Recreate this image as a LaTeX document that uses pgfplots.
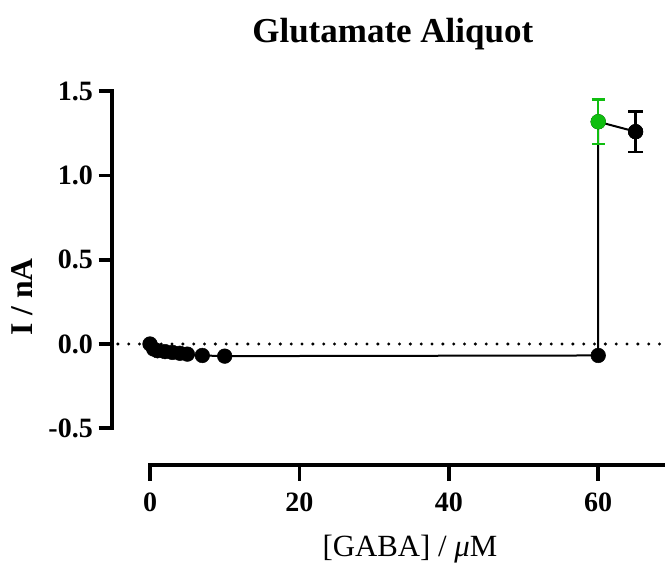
\documentclass[border=0pt]{standalone}
\usepackage{pgfplots}
\pgfplotsset{compat=1.18}
\usepackage{fontspec}
\setmainfont{Liberation Serif}
\definecolor{pgreen}{RGB}{16,190,16}

\begin{document}
\begin{tikzpicture}
\begin{axis}[
  x=4.482pt, y=101.1pt,
  xmin=-5.09, xmax=68.94, ymin=-0.718, ymax=1.55,
  axis line style={draw=none},
  clip=false,
  xtick={0,20,40,60}, xticklabels={0,20,40,60},
  ytick={-0.5,0,0.5,1,1.5}, yticklabels={-0.5,0.0,0.5,1.0,1.5},
  xtick pos=left, ytick pos=left,
  tick align=outside,
  major tick length=8pt,
  xtick style={/pgfplots/major tick length=9.6pt},
  tick style={black, line width=2.2pt},
  ticklabel style={font=\bfseries\fontsize{16.8}{18}\selectfont},
  xticklabel style={yshift=-5pt},
  /pgf/number format/assume math mode=true,
]
% zero line
\draw[line width=2pt, line cap=round, dash pattern=on 0pt off 6.5pt]
  (axis cs:-4.3,0) -- (axis cs:68.94,0);
% axis lines
\draw[line width=2.2pt, line cap=rect] (axis cs:-5.09,-0.5) -- (axis cs:-5.09,1.5);
\draw[line width=2.2pt, line cap=rect] (axis cs:0,-0.718) -- (axis cs:68.94,-0.718);

\addplot[black, line width=1.2pt, mark=*, mark size=4.4pt,
  mark options={solid, fill=black, line width=0.3pt}] coordinates {
  (0,0.00) (0.5,-0.03) (1,-0.04) (2,-0.045) (3,-0.05) (4,-0.055)
  (5,-0.06) (7,-0.068) (10,-0.072) (60,-0.068) (60,1.319) (65,1.26)
};
\addplot[black, only marks, mark=*, mark size=4.4pt,
  mark options={fill=black, line width=0.3pt},
  error bars/.cd, y dir=both, y explicit,
  error bar style={line width=1.5pt},
  error mark options={rotate=90, mark size=4.5pt, line width=1.5pt}]
  coordinates {(65,1.26) +- (0,0.12)};
\addplot[pgreen, only marks, mark=*, mark size=4.4pt,
  mark options={fill=pgreen, line width=0.3pt},
  error bars/.cd, y dir=both, y explicit,
  error bar style={line width=1.5pt},
  error mark options={rotate=90, mark size=4.0pt, line width=1.5pt}]
  coordinates {(60,1.319) +- (0,0.133)};

\node[font=\bfseries\fontsize{21}{24}\selectfont, anchor=base]
  at (axis cs:32.5,1.792) {Glutamate Aliquot};
\node[font=\fontsize{18.5}{21}\selectfont, anchor=base]
  at (axis cs:34.8,-1.264) {[GABA] / {\itshape μ}M};
\node[font=\bfseries\fontsize{19}{22}\selectfont, rotate=90, anchor=base]
  at (axis cs:-15.7,0.279) {I / nA};

\coordinate (bl) at (axis cs:-20.08,-1.2997);
\coordinate (tr) at (axis cs:68.94,2.0415);
\end{axis}
\pgfresetboundingbox
\useasboundingbox (bl) rectangle (tr);
\end{tikzpicture}
\end{document}
